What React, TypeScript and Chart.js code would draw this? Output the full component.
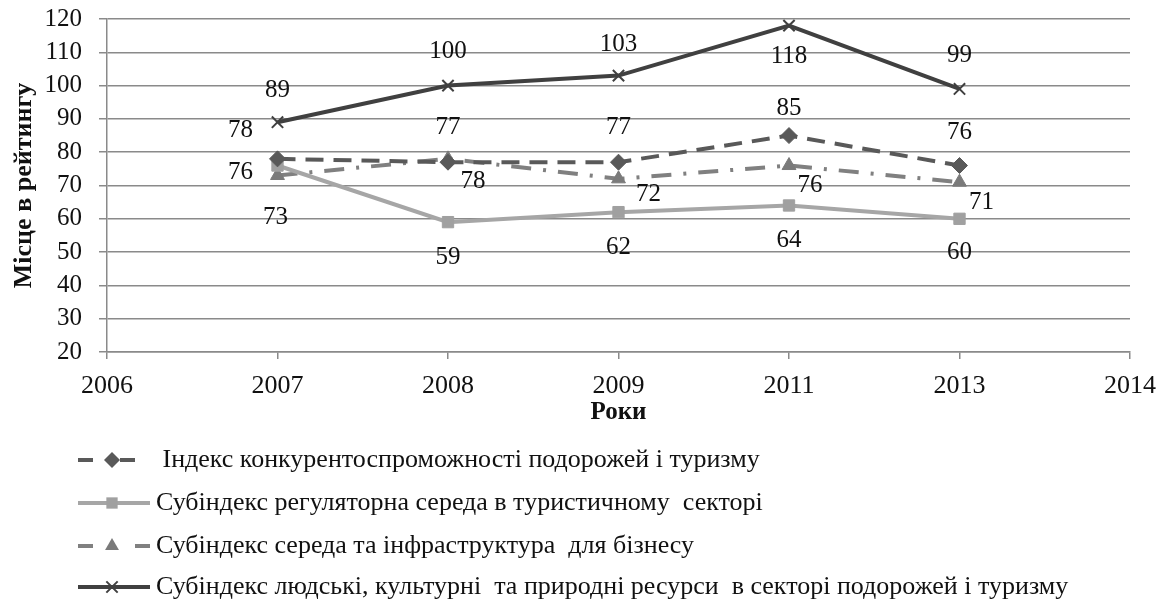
import { useEffect, useRef } from 'react';
import { Chart, registerables } from 'chart.js';

Chart.register(...registerables);

// ---- data ----
const axisYears = ['2006', '2007', '2008', '2009', '2011', '2013', '2014'];
const years = ['2007', '2008', '2009', '2011', '2013'];
const indexTTCI = [78, 77, 77, 85, 76];
const regulatory = [76, 59, 62, 64, 60];
const infrastructure = [73, 78, 72, 76, 71];
const humanResources = [89, 100, 103, 118, 99];
const seriesNames = [
  ' Індекс конкурентоспроможності подорожей і туризму',
  'Субіндекс регуляторна середа в туристичному  секторі',
  'Субіндекс середа та інфраструктура  для бізнесу',
  'Субіндекс людські, культурні  та природні ресурси  в секторі подорожей і туризму',
];
const yMin = 20;
const yMax = 120;
const yStep = 10;
const xTitle = 'Роки';
const yTitle = 'Місце в рейтингу';

// ---- styles ----
const FONT = "'Liberation Serif', 'Times New Roman', serif";
const labelOffsets: number[][][] = [
  [[-37, -28], [0, -35], [0, -35], [0, -27], [0, -33]],
  [[-37, 7], [0, 35], [0, 35], [0, 35], [0, 34]],
  [[-2, 42], [25, 23], [30, 16], [21, 20], [22, 20]],
  [[0, -32], [0, -34], [0, -31], [0, 31], [0, -33]],
];
const legendStyle = {
  rowsY: [460, 503, 546, 587],
  lineX0: 78,
  lineX1: 150,
  markerX: 112,
  textX: 156,
  dashes: [[15, 27], [], [15, 42], []],
};
const yTickStyle = { gap: 25, size: 25 };

const toPoints = (vals: number[]) =>
  vals.map((v, i) => ({ x: axisYears.indexOf(years[i]), y: v }));

function drawMarker(ctx: CanvasRenderingContext2D, style: string, x: number, y: number, r: number, color: string) {
  ctx.save();
  ctx.fillStyle = color;
  ctx.strokeStyle = color;
  ctx.setLineDash([]);
  ctx.beginPath();
  if (style === 'rectRot') {
    ctx.moveTo(x, y - r);
    ctx.lineTo(x + r, y);
    ctx.lineTo(x, y + r);
    ctx.lineTo(x - r, y);
    ctx.closePath();
    ctx.fill();
  } else if (style === 'rect') {
    const s = r * Math.SQRT1_2;
    ctx.rect(x - s, y - s, 2 * s, 2 * s);
    ctx.fill();
  } else if (style === 'triangle') {
    const h = r * 1.5;
    ctx.moveTo(x, y - r);
    ctx.lineTo(x + h * 0.577, y + r * 0.5);
    ctx.lineTo(x - h * 0.577, y + r * 0.5);
    ctx.closePath();
    ctx.fill();
  } else if (style === 'crossRot') {
    const d = r * Math.SQRT1_2;
    ctx.lineWidth = 2;
    ctx.moveTo(x - d, y - d);
    ctx.lineTo(x + d, y + d);
    ctx.moveTo(x + d, y - d);
    ctx.lineTo(x - d, y + d);
    ctx.stroke();
  }
  ctx.restore();
}

// y tick labels drawn as text next to the library's own y scale ticks
const yTickLabelPlugin = {
  id: 'yTickLabels',
  afterDraw(chart: any) {
    const ctx = chart.ctx as CanvasRenderingContext2D;
    const scale = chart.scales.y;
    ctx.save();
    ctx.font = `${yTickStyle.size}px ${FONT}`;
    ctx.fillStyle = '#111';
    ctx.textAlign = 'right';
    ctx.textBaseline = 'middle';
    scale.ticks.forEach((t: any) => {
      ctx.fillText(String(t.value), chart.chartArea.left - yTickStyle.gap, scale.getPixelForValue(t.value));
    });
    ctx.restore();
  },
};

const dataLabelPlugin = {
  id: 'dataLabels',
  afterDatasetsDraw(chart: any) {
    const ctx = chart.ctx as CanvasRenderingContext2D;
    ctx.save();
    ctx.font = `25px ${FONT}`;
    ctx.fillStyle = '#111';
    ctx.textAlign = 'center';
    ctx.textBaseline = 'middle';
    chart.data.datasets.forEach((ds: any, di: number) => {
      const meta = chart.getDatasetMeta(di);
      meta.data.forEach((pt: any, i: number) => {
        const [dx, dy] = labelOffsets[di][i];
        ctx.fillText(String(ds.data[i].y), pt.x + dx, pt.y + dy);
      });
    });
    ctx.restore();
  },
};

const legendPlugin = {
  id: 'customLegend',
  afterDraw(chart: any) {
    const ctx = chart.ctx as CanvasRenderingContext2D;
    ctx.save();
    chart.data.datasets.forEach((ds: any, i: number) => {
      const y = legendStyle.rowsY[i];
      ctx.strokeStyle = ds.borderColor;
      ctx.lineWidth = ds.borderWidth;
      ctx.setLineDash(legendStyle.dashes[i]);
      ctx.beginPath();
      ctx.moveTo(legendStyle.lineX0, y);
      ctx.lineTo(legendStyle.lineX1, y);
      ctx.stroke();
      drawMarker(ctx, ds.pointStyle, legendStyle.markerX, y, ds.pointRadius, ds.pointBackgroundColor || ds.borderColor);
      ctx.setLineDash([]);
      ctx.font = `26px ${FONT}`;
      ctx.fillStyle = '#111';
      ctx.textAlign = 'left';
      ctx.textBaseline = 'middle';
      ctx.fillText(ds.label, legendStyle.textX, y);
    });
    ctx.restore();
  },
};

export default function App() {
  const ref = useRef<HTMLCanvasElement>(null);
  useEffect(() => {
    document.body.style.margin = '0';
    const chart = new Chart(ref.current!, {
      type: 'line',
      data: {
        datasets: [
          {
            label: seriesNames[0],
            data: toPoints(indexTTCI),
            borderColor: '#595959',
            backgroundColor: '#595959',
            borderWidth: 4,
            borderDash: [18, 10],
            pointStyle: 'rectRot',
            pointRadius: 8,
            pointBackgroundColor: '#595959',
            pointBorderColor: '#595959',
            pointBorderWidth: 1,
          },
          {
            label: seriesNames[1],
            data: toPoints(regulatory),
            borderColor: '#a6a6a6',
            backgroundColor: '#a6a6a6',
            borderWidth: 4,
            pointStyle: 'rect',
            pointRadius: 8,
            pointBackgroundColor: '#a0a0a0',
            pointBorderColor: '#a0a0a0',
            pointBorderWidth: 1,
          },
          {
            label: seriesNames[2],
            data: toPoints(infrastructure),
            borderColor: '#808080',
            backgroundColor: '#808080',
            borderWidth: 4,
            borderDash: [20, 12, 3, 12],
            pointStyle: 'triangle',
            pointRadius: 8,
            pointBackgroundColor: '#7a7a7a',
            pointBorderColor: '#7a7a7a',
            pointBorderWidth: 1,
          },
          {
            label: seriesNames[3],
            data: toPoints(humanResources),
            borderColor: '#404040',
            backgroundColor: '#404040',
            borderWidth: 4,
            pointStyle: 'crossRot',
            pointRadius: 8,
            pointBackgroundColor: '#404040',
            pointBorderColor: '#404040',
            pointBorderWidth: 2,
          },
        ],
      },
      options: {
        animation: false,
        responsive: true,
        maintainAspectRatio: false,
        layout: { padding: { top: 19, right: 37, bottom: 178, left: 0 } },
        plugins: {
          legend: { display: false },
          tooltip: { enabled: false },
        },
        scales: {
          x: {
            type: 'linear',
            min: 0,
            max: axisYears.length - 1,
            afterFit: (s: any) => { s.height = 80; },
            ticks: {
              stepSize: 1,
              autoSkip: false,
              maxRotation: 0,
              padding: 12,
              color: '#111',
              font: { family: FONT, size: 26 },
              callback: (v: any) => axisYears[v as number] ?? '',
            },
            grid: {
              drawOnChartArea: false,
              drawTicks: true,
              tickLength: 7,
              color: '#8a8a8a',
              lineWidth: 1.5,
            },
            border: { display: true, color: '#8a8a8a', width: 1.5 },
            title: {
              display: true,
              text: xTitle,
              color: '#111',
              font: { family: FONT, size: 25, weight: 'bold' },
              padding: { top: 0, bottom: 4 },
            },
          },
          y: {
            min: yMin,
            max: yMax,
            afterFit: (s: any) => { s.width = 107; },
            ticks: {
              stepSize: yStep,
              autoSkip: false,
              display: false,
            },
            grid: {
              color: '#8a8a8a',
              lineWidth: 1.5,
              drawTicks: true,
              tickLength: 8,
            },
            border: { display: true, color: '#8a8a8a', width: 1.5 },
            title: {
              display: true,
              text: yTitle,
              color: '#111',
              font: { family: FONT, size: 26, weight: 'bold' },
              padding: { top: 9, bottom: 0 },
            },
          },
        },
      },
      plugins: [yTickLabelPlugin, dataLabelPlugin, legendPlugin],
    } as any);
    return () => chart.destroy();
  }, []);
  return (
    <div style={{ width: 1168, height: 610, position: 'relative' }}>
      <canvas ref={ref} />
    </div>
  );
}
